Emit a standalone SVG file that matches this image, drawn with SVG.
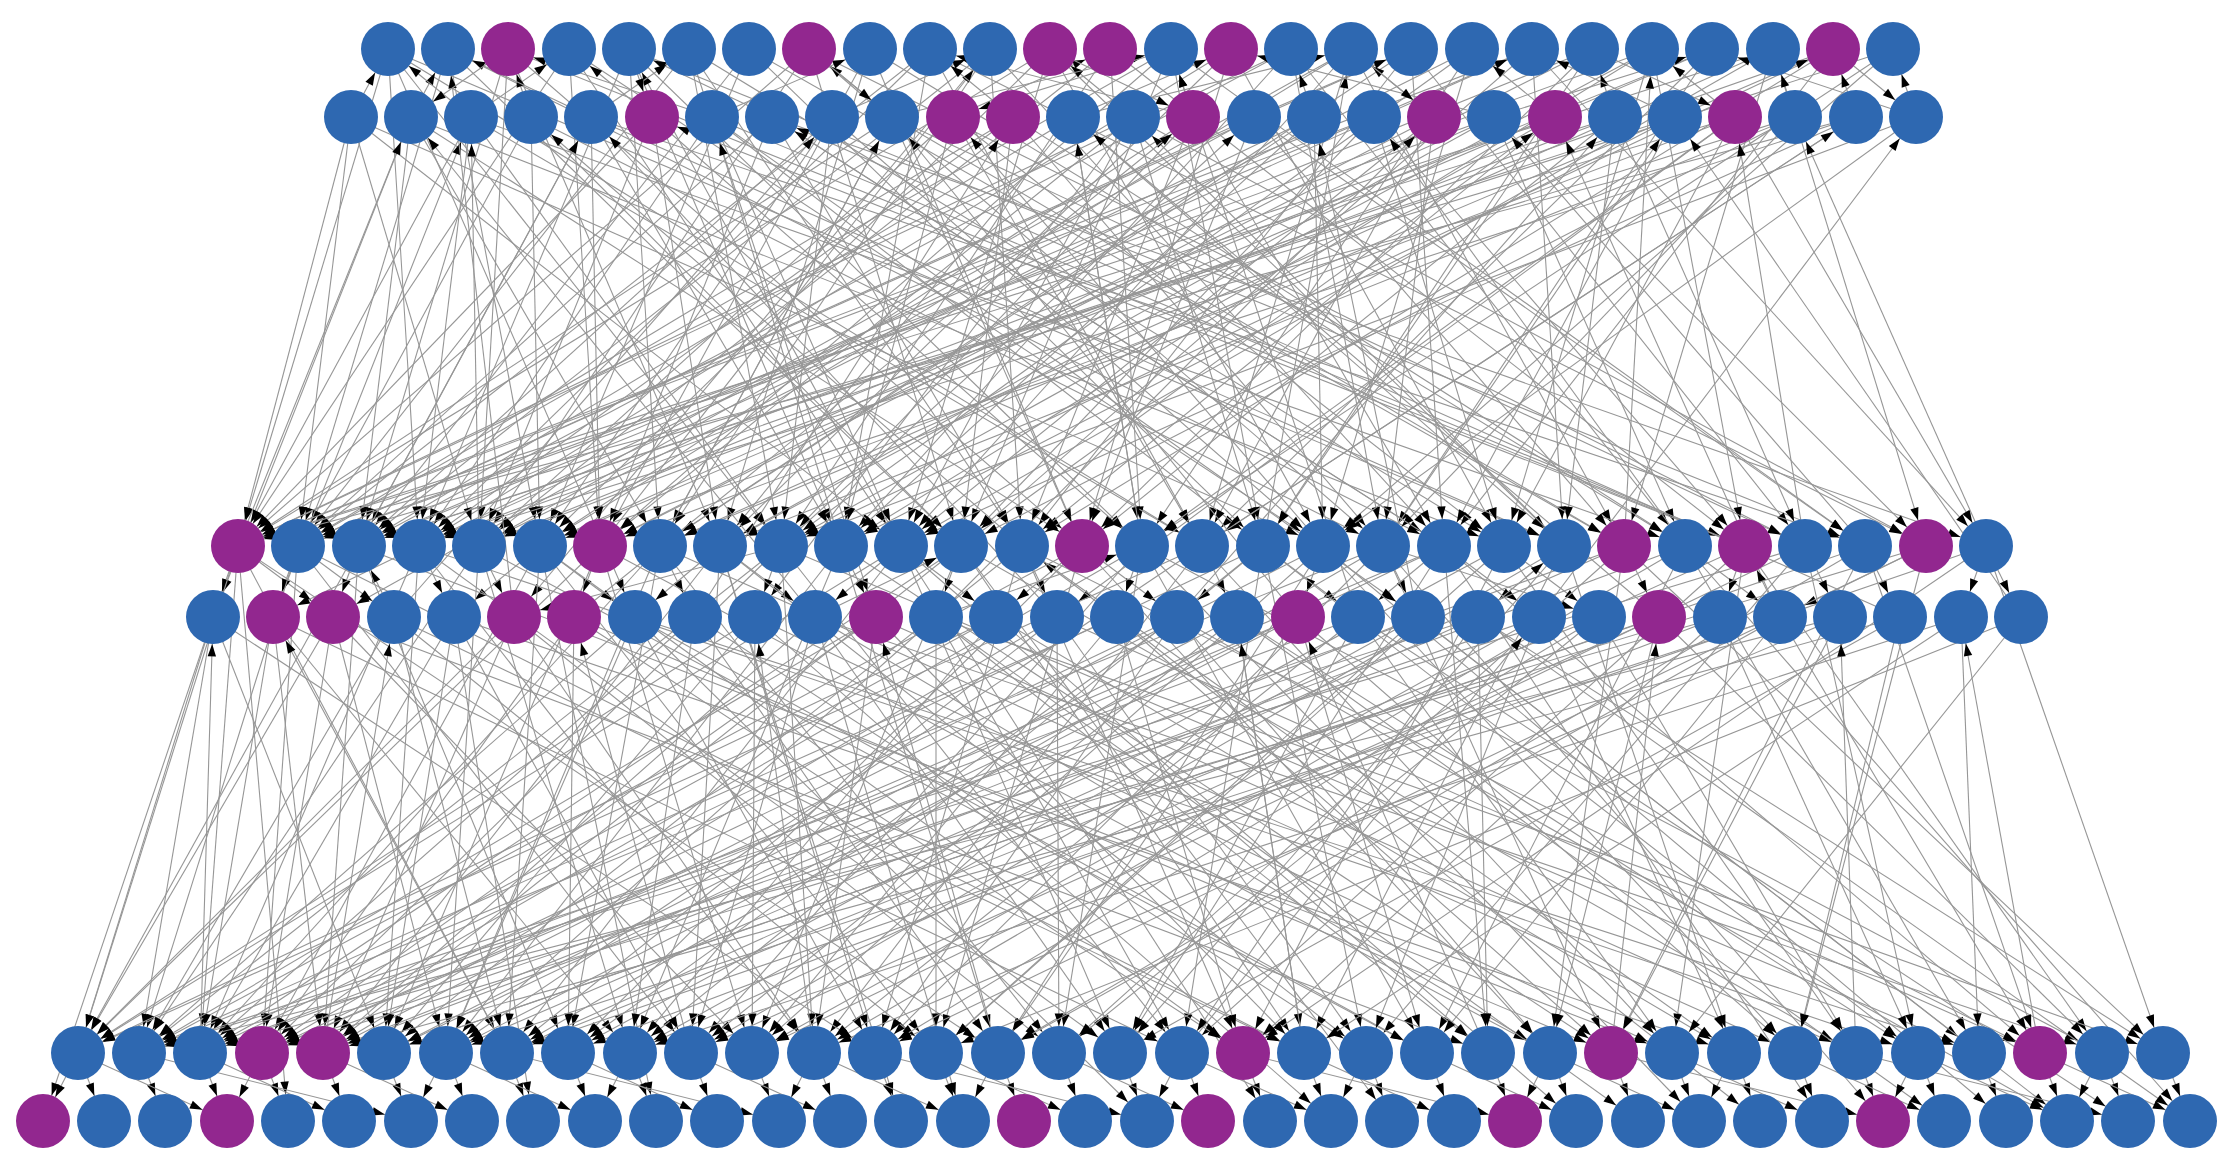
<svg xmlns="http://www.w3.org/2000/svg" width="2219" height="1154" viewBox="0 0 2219 1154">
<style>
.e path{fill:none;stroke:#969696;stroke-width:1.1;marker-end:url(#ah)}
circle{fill:#2e68b1}
circle.p{fill:#92278f}
</style>
<defs>
<marker id="ah" markerUnits="userSpaceOnUse" viewBox="-40 -5 40 10" markerWidth="40" markerHeight="10" refX="0" refY="0" orient="auto" overflow="visible"><path d="M-39.5,-4.2L-27,0L-39.5,4.2Z" fill="#000" stroke="none"/></marker>
</defs>
<rect width="2219" height="1154" fill="#fff"/>
<g id="connectors" class="e">
<path d="M388 49L238 546"/><path d="M388 49L419 546"/><path d="M388 49L781 546"/><path d="M388 49L1202 546"/><path d="M388 49L1564 546"/><path d="M388 49L635 617"/>
<path d="M448 49L298 546"/><path d="M448 49L540 546"/><path d="M448 49L961 546"/><path d="M448 49L1444 546"/>
<path d="M508 49L359 546"/><path d="M508 49L720 546"/><path d="M508 49L1082 546"/><path d="M508 49L1745 546"/><path d="M508 49L479 546"/>
<path d="M569 49L238 546"/><path d="M569 49L600 546"/><path d="M569 49L901 546"/><path d="M569 49L1323 546"/>
<path d="M629 49L419 546"/><path d="M629 49L841 546"/><path d="M629 49L1142 546"/><path d="M629 49L1865 546"/><path d="M629 49L660 546"/>
<path d="M689 49L298 546"/><path d="M689 49L781 546"/><path d="M689 49L1022 546"/><path d="M689 49L1504 546"/><path d="M689 49L876 617"/>
<path d="M749 49L359 546"/><path d="M749 49L540 546"/><path d="M749 49L1263 546"/><path d="M749 49L1624 546"/>
<path d="M809 49L238 546"/><path d="M809 49L479 546"/><path d="M809 49L961 546"/><path d="M809 49L1383 546"/><path d="M809 49L1805 546"/>
<path d="M870 49L600 546"/><path d="M870 49L720 546"/><path d="M870 49L1082 546"/><path d="M870 49L1685 546"/>
<path d="M930 49L298 546"/><path d="M930 49L419 546"/><path d="M930 49L841 546"/><path d="M930 49L1202 546"/><path d="M930 49L1926 546"/>
<path d="M990 49L359 546"/><path d="M990 49L660 546"/><path d="M990 49L1022 546"/><path d="M990 49L1444 546"/><path d="M990 49L514 617"/>
<path d="M1050 49L238 546"/><path d="M1050 49L540 546"/><path d="M1050 49L901 546"/><path d="M1050 49L1323 546"/><path d="M1050 49L1564 546"/>
<path d="M1110 49L479 546"/><path d="M1110 49L781 546"/><path d="M1110 49L1142 546"/><path d="M1110 49L1745 546"/>
<path d="M1171 49L298 546"/><path d="M1171 49L600 546"/><path d="M1171 49L961 546"/><path d="M1171 49L1263 546"/><path d="M1171 49L1865 546"/>
<path d="M1231 49L419 546"/><path d="M1231 49L720 546"/><path d="M1231 49L1082 546"/><path d="M1231 49L1504 546"/>
<path d="M1291 49L238 546"/><path d="M1291 49L359 546"/><path d="M1291 49L841 546"/><path d="M1291 49L1383 546"/><path d="M1291 49L1685 546"/>
<path d="M1351 49L540 546"/><path d="M1351 49L901 546"/><path d="M1351 49L1202 546"/><path d="M1351 49L1624 546"/><path d="M1351 49L333 617"/>
<path d="M1411 49L298 546"/><path d="M1411 49L660 546"/><path d="M1411 49L1022 546"/><path d="M1411 49L1444 546"/><path d="M1411 49L1805 546"/>
<path d="M1472 49L479 546"/><path d="M1472 49L781 546"/><path d="M1472 49L1142 546"/><path d="M1472 49L1323 546"/>
<path d="M1532 49L238 546"/><path d="M1532 49L419 546"/><path d="M1532 49L961 546"/><path d="M1532 49L1564 546"/><path d="M1532 49L1986 546"/>
<path d="M1592 49L359 546"/><path d="M1592 49L600 546"/><path d="M1592 49L1082 546"/><path d="M1592 49L1263 546"/>
<path d="M1652 49L298 546"/><path d="M1652 49L720 546"/><path d="M1652 49L841 546"/><path d="M1652 49L1504 546"/><path d="M1652 49L1745 546"/>
<path d="M1712 49L479 546"/><path d="M1712 49L540 546"/><path d="M1712 49L1202 546"/><path d="M1712 49L1383 546"/>
<path d="M1773 49L238 546"/><path d="M1773 49L660 546"/><path d="M1773 49L901 546"/><path d="M1773 49L1624 546"/><path d="M1773 49L1926 546"/>
<path d="M1833 49L419 546"/><path d="M1833 49L781 546"/><path d="M1833 49L1022 546"/><path d="M1833 49L1444 546"/>
<path d="M1893 49L359 546"/><path d="M1893 49L1142 546"/><path d="M1893 49L1323 546"/>
<path d="M351 117L238 546"/><path d="M351 117L298 546"/><path d="M351 117L479 546"/><path d="M351 117L901 546"/><path d="M351 117L1323 546"/>
<path d="M411 117L359 546"/><path d="M411 117L660 546"/><path d="M411 117L1082 546"/><path d="M411 117L1504 546"/><path d="M411 117L213 617"/>
<path d="M471 117L238 546"/><path d="M471 117L419 546"/><path d="M471 117L781 546"/><path d="M471 117L1202 546"/><path d="M471 117L1685 546"/>
<path d="M531 117L298 546"/><path d="M531 117L540 546"/><path d="M531 117L961 546"/><path d="M531 117L1383 546"/>
<path d="M591 117L359 546"/><path d="M591 117L600 546"/><path d="M591 117L841 546"/><path d="M591 117L1564 546"/><path d="M591 117L1865 546"/>
<path d="M652 117L238 546"/><path d="M652 117L479 546"/><path d="M652 117L720 546"/><path d="M652 117L1142 546"/>
<path d="M712 117L419 546"/><path d="M712 117L901 546"/><path d="M712 117L1263 546"/><path d="M712 117L1745 546"/><path d="M712 117L1418 617"/>
<path d="M772 117L298 546"/><path d="M772 117L600 546"/><path d="M772 117L1022 546"/><path d="M772 117L1444 546"/><path d="M772 117L1986 546"/>
<path d="M832 117L359 546"/><path d="M832 117L540 546"/><path d="M832 117L781 546"/><path d="M832 117L1323 546"/>
<path d="M892 117L238 546"/><path d="M892 117L660 546"/><path d="M892 117L1082 546"/><path d="M892 117L1624 546"/><path d="M892 117L1805 546"/>
<path d="M953 117L479 546"/><path d="M953 117L841 546"/><path d="M953 117L1202 546"/><path d="M953 117L1504 546"/>
<path d="M1013 117L298 546"/><path d="M1013 117L419 546"/><path d="M1013 117L961 546"/><path d="M1013 117L1383 546"/><path d="M1013 117L1685 546"/>
<path d="M1073 117L359 546"/><path d="M1073 117L720 546"/><path d="M1073 117L1142 546"/><path d="M1073 117L1564 546"/>
<path d="M1133 117L238 546"/><path d="M1133 117L600 546"/><path d="M1133 117L901 546"/><path d="M1133 117L1263 546"/><path d="M1133 117L1926 546"/><path d="M1133 117L755 617"/>
<path d="M1193 117L540 546"/><path d="M1193 117L781 546"/><path d="M1193 117L1022 546"/><path d="M1193 117L1444 546"/>
<path d="M1254 117L298 546"/><path d="M1254 117L479 546"/><path d="M1254 117L1082 546"/><path d="M1254 117L1624 546"/><path d="M1254 117L1865 546"/>
<path d="M1314 117L419 546"/><path d="M1314 117L660 546"/><path d="M1314 117L841 546"/><path d="M1314 117L1323 546"/>
<path d="M1374 117L238 546"/><path d="M1374 117L359 546"/><path d="M1374 117L961 546"/><path d="M1374 117L1504 546"/><path d="M1374 117L1745 546"/>
<path d="M1434 117L600 546"/><path d="M1434 117L901 546"/><path d="M1434 117L1202 546"/><path d="M1434 117L1383 546"/>
<path d="M1494 117L298 546"/><path d="M1494 117L540 546"/><path d="M1494 117L720 546"/><path d="M1494 117L1685 546"/><path d="M1494 117L1926 546"/>
<path d="M1555 117L419 546"/><path d="M1555 117L781 546"/><path d="M1555 117L1022 546"/><path d="M1555 117L1263 546"/>
<path d="M1615 117L238 546"/><path d="M1615 117L479 546"/><path d="M1615 117L1082 546"/><path d="M1615 117L1564 546"/><path d="M1615 117L1805 546"/>
<path d="M1675 117L359 546"/><path d="M1675 117L660 546"/><path d="M1675 117L841 546"/><path d="M1675 117L1444 546"/>
<path d="M1735 117L298 546"/><path d="M1735 117L600 546"/><path d="M1735 117L1142 546"/><path d="M1735 117L1504 546"/><path d="M1735 117L1986 546"/><path d="M1735 117L1057 617"/>
<path d="M1795 117L419 546"/><path d="M1795 117L720 546"/><path d="M1795 117L961 546"/><path d="M1795 117L1383 546"/>
<path d="M1856 117L238 546"/><path d="M1856 117L540 546"/><path d="M1856 117L901 546"/><path d="M1856 117L1202 546"/>
<path d="M1916 117L781 546"/><path d="M1916 117L1323 546"/>
<path d="M238 546L411 117"/><path d="M359 546L591 117"/><path d="M479 546L471 117"/><path d="M660 546L892 117"/><path d="M781 546L1254 117"/><path d="M841 546L712 117"/><path d="M961 546L1555 117"/><path d="M1022 546L531 117"/><path d="M1142 546L1073 117"/><path d="M1202 546L1856 117"/><path d="M1323 546L953 117"/><path d="M1383 546L1675 117"/><path d="M1444 546L772 117"/><path d="M1564 546L1133 117"/><path d="M1685 546L1374 117"/><path d="M1745 546L652 117"/><path d="M1805 546L1735 117"/><path d="M1865 546L1494 117"/><path d="M1986 546L1795 117"/>
<path d="M273 617L471 117"/><path d="M394 617L832 117"/><path d="M574 617L1193 117"/><path d="M695 617L1013 117"/><path d="M815 617L411 117"/><path d="M936 617L1434 117"/><path d="M1057 617L591 117"/><path d="M1177 617L1615 117"/><path d="M1298 617L892 117"/><path d="M1418 617L1314 117"/><path d="M1539 617L1916 117"/><path d="M1659 617L1073 117"/><path d="M1780 617L1555 117"/><path d="M1900 617L772 117"/><path d="M2021 617L1675 117"/>
<path d="M600 546L990 49"/><path d="M901 546L629 49"/><path d="M1263 546L1351 49"/><path d="M1624 546L1652 49"/><path d="M514 617L448 49"/><path d="M1358 617L1171 49"/>
<path d="M351 117L388 49"/><path d="M411 117L448 49"/><path d="M471 117L388 49"/><path d="M471 117L569 49"/><path d="M531 117L508 49"/><path d="M591 117L689 49"/><path d="M652 117L569 49"/><path d="M712 117L870 49"/><path d="M772 117L629 49"/><path d="M832 117L990 49"/><path d="M892 117L809 49"/><path d="M953 117L1110 49"/><path d="M1013 117L930 49"/><path d="M1073 117L1231 49"/><path d="M1133 117L1050 49"/><path d="M1193 117L1171 49"/><path d="M1254 117L1411 49"/><path d="M1314 117L1291 49"/><path d="M1374 117L1532 49"/><path d="M1434 117L1351 49"/><path d="M1494 117L1712 49"/><path d="M1555 117L1472 49"/><path d="M1615 117L1592 49"/><path d="M1675 117L1833 49"/><path d="M1735 117L1652 49"/><path d="M1795 117L1773 49"/><path d="M1856 117L1833 49"/><path d="M1916 117L1893 49"/><path d="M591 117L448 49"/><path d="M892 117L1171 49"/><path d="M1193 117L930 49"/><path d="M1494 117L1231 49"/><path d="M1675 117L1532 49"/><path d="M1916 117L1712 49"/><path d="M1073 117L1351 49"/><path d="M712 117L508 49"/>
<path d="M629 49L652 117"/><path d="M809 49L892 117"/><path d="M1050 49L1193 117"/><path d="M1351 49L1434 117"/><path d="M1592 49L1735 117"/><path d="M508 49L411 117"/><path d="M1171 49L953 117"/><path d="M1833 49L1916 117"/>
<path d="M238 546L213 617"/><path d="M238 546L333 617"/><path d="M298 546L273 617"/><path d="M298 546L394 617"/><path d="M359 546L333 617"/><path d="M419 546L454 617"/><path d="M419 546L273 617"/><path d="M479 546L514 617"/><path d="M540 546L454 617"/><path d="M540 546L635 617"/><path d="M600 546L574 617"/><path d="M660 546L695 617"/><path d="M720 546L635 617"/><path d="M720 546L815 617"/><path d="M781 546L755 617"/><path d="M841 546L876 617"/><path d="M901 546L815 617"/><path d="M901 546L996 617"/><path d="M961 546L936 617"/><path d="M1022 546L1057 617"/><path d="M1082 546L996 617"/><path d="M1082 546L1177 617"/><path d="M1142 546L1117 617"/><path d="M1202 546L1237 617"/><path d="M1263 546L1177 617"/><path d="M1263 546L1358 617"/><path d="M1323 546L1298 617"/><path d="M1383 546L1418 617"/><path d="M1444 546L1358 617"/><path d="M1444 546L1539 617"/><path d="M1504 546L1599 617"/><path d="M1564 546L1478 617"/><path d="M1624 546L1659 617"/><path d="M1685 546L1780 617"/><path d="M1745 546L1720 617"/><path d="M1805 546L1840 617"/><path d="M1865 546L1900 617"/><path d="M1926 546L1780 617"/><path d="M1986 546L1961 617"/><path d="M1986 546L2021 617"/><path d="M781 546L514 617"/><path d="M1383 546L1599 617"/>
<path d="M394 617L359 546"/><path d="M815 617L961 546"/><path d="M1117 617L1022 546"/><path d="M1478 617L1564 546"/><path d="M1780 617L1745 546"/><path d="M936 617L1142 546"/>
<path d="M238 546L78 1053"/><path d="M238 546L200 1053"/><path d="M238 546L507 1053"/><path d="M238 546L998 1053"/><path d="M238 546L288 1121"/>
<path d="M298 546L139 1053"/><path d="M298 546L262 1053"/><path d="M298 546L691 1053"/><path d="M298 546L1304 1053"/>
<path d="M359 546L78 1053"/><path d="M359 546L323 1053"/><path d="M359 546L568 1053"/><path d="M359 546L1672 1053"/>
<path d="M419 546L200 1053"/><path d="M419 546L384 1053"/><path d="M419 546L814 1053"/><path d="M419 546L1120 1053"/><path d="M419 546L1918 1053"/>
<path d="M479 546L139 1053"/><path d="M479 546L446 1053"/><path d="M479 546L630 1053"/><path d="M479 546L1427 1053"/>
<path d="M540 546L262 1053"/><path d="M540 546L507 1053"/><path d="M540 546L936 1053"/><path d="M540 546L1243 1053"/><path d="M540 546L656 1121"/>
<path d="M600 546L78 1053"/><path d="M600 546L384 1053"/><path d="M600 546L752 1053"/><path d="M600 546L1550 1053"/>
<path d="M660 546L200 1053"/><path d="M660 546L568 1053"/><path d="M660 546L1059 1053"/><path d="M660 546L1795 1053"/><path d="M660 546L446 1053"/>
<path d="M720 546L323 1053"/><path d="M720 546L691 1053"/><path d="M720 546L875 1053"/><path d="M720 546L1366 1053"/><path d="M720 546L901 1121"/>
<path d="M781 546L139 1053"/><path d="M781 546L262 1053"/><path d="M781 546L814 1053"/><path d="M781 546L1182 1053"/><path d="M781 546L1979 1053"/>
<path d="M841 546L446 1053"/><path d="M841 546L630 1053"/><path d="M841 546L998 1053"/><path d="M841 546L1611 1053"/>
<path d="M901 546L78 1053"/><path d="M901 546L507 1053"/><path d="M901 546L1120 1053"/><path d="M901 546L1488 1053"/><path d="M901 546L1270 1121"/>
<path d="M961 546L200 1053"/><path d="M961 546L323 1053"/><path d="M961 546L752 1053"/><path d="M961 546L1304 1053"/><path d="M961 546L1856 1053"/><path d="M961 546L1392 1121"/>
<path d="M1022 546L384 1053"/><path d="M1022 546L875 1053"/><path d="M1022 546L1243 1053"/><path d="M1022 546L1734 1053"/><path d="M1022 546L2040 1053"/>
<path d="M1082 546L139 1053"/><path d="M1082 546L568 1053"/><path d="M1082 546L936 1053"/><path d="M1082 546L1550 1053"/>
<path d="M1142 546L262 1053"/><path d="M1142 546L691 1053"/><path d="M1142 546L1059 1053"/><path d="M1142 546L1427 1053"/><path d="M1142 546L2102 1053"/><path d="M1142 546L1699 1121"/>
<path d="M1202 546L78 1053"/><path d="M1202 546L446 1053"/><path d="M1202 546L814 1053"/><path d="M1202 546L1672 1053"/>
<path d="M1263 546L200 1053"/><path d="M1263 546L630 1053"/><path d="M1263 546L1182 1053"/><path d="M1263 546L1366 1053"/><path d="M1263 546L1918 1053"/>
<path d="M1323 546L323 1053"/><path d="M1323 546L752 1053"/><path d="M1323 546L998 1053"/><path d="M1323 546L1795 1053"/><path d="M1323 546L2006 1121"/>
<path d="M1383 546L139 1053"/><path d="M1383 546L507 1053"/><path d="M1383 546L875 1053"/><path d="M1383 546L1611 1053"/><path d="M1383 546L1883 1121"/>
<path d="M1444 546L262 1053"/><path d="M1444 546L384 1053"/><path d="M1444 546L1120 1053"/><path d="M1444 546L1488 1053"/><path d="M1444 546L2040 1053"/><path d="M1444 546L1822 1121"/>
<path d="M1504 546L568 1053"/><path d="M1504 546L936 1053"/><path d="M1504 546L1243 1053"/><path d="M1504 546L1856 1053"/>
<path d="M1564 546L1120 1053"/><path d="M1564 546L691 1053"/><path d="M1564 546L1304 1053"/><path d="M1564 546L1734 1053"/>
<path d="M1624 546L200 1053"/><path d="M1624 546L446 1053"/><path d="M1624 546L1059 1053"/><path d="M1624 546L1550 1053"/><path d="M1624 546L2163 1053"/>
<path d="M1685 546L323 1053"/><path d="M1685 546L814 1053"/><path d="M1685 546L1427 1053"/><path d="M1685 546L1979 1053"/><path d="M1685 546L2190 1121"/>
<path d="M1745 546L630 1053"/><path d="M1745 546L1182 1053"/><path d="M1745 546L1672 1053"/><path d="M1745 546L2102 1053"/>
<path d="M1805 546L139 1053"/><path d="M1805 546L752 1053"/><path d="M1805 546L1366 1053"/><path d="M1805 546L1918 1053"/>
<path d="M1865 546L384 1053"/><path d="M1865 546L998 1053"/><path d="M1865 546L1611 1053"/><path d="M1865 546L2040 1053"/>
<path d="M1926 546L262 1053"/><path d="M1926 546L875 1053"/><path d="M1926 546L1795 1053"/>
<path d="M1986 546L507 1053"/><path d="M1986 546L1243 1053"/><path d="M1986 546L2163 1053"/>
<path d="M213 617L78 1053"/><path d="M213 617L139 1053"/><path d="M213 617L384 1053"/><path d="M213 617L875 1053"/><path d="M213 617L43 1121"/>
<path d="M273 617L200 1053"/><path d="M273 617L323 1053"/><path d="M273 617L630 1053"/><path d="M273 617L1182 1053"/>
<path d="M333 617L78 1053"/><path d="M333 617L262 1053"/><path d="M333 617L752 1053"/><path d="M333 617L1488 1053"/><path d="M333 617L446 1053"/>
<path d="M394 617L139 1053"/><path d="M394 617L507 1053"/><path d="M394 617L936 1053"/><path d="M394 617L1304 1053"/>
<path d="M454 617L200 1053"/><path d="M454 617L384 1053"/><path d="M454 617L691 1053"/><path d="M454 617L1734 1053"/><path d="M454 617L533 1121"/>
<path d="M514 617L78 1053"/><path d="M514 617L323 1053"/><path d="M514 617L814 1053"/><path d="M514 617L1059 1053"/>
<path d="M574 617L262 1053"/><path d="M574 617L568 1053"/><path d="M574 617L1243 1053"/><path d="M574 617L1611 1053"/>
<path d="M635 617L139 1053"/><path d="M635 617L446 1053"/><path d="M635 617L875 1053"/><path d="M635 617L1427 1053"/><path d="M635 617L1979 1053"/><path d="M635 617L1147 1121"/>
<path d="M695 617L200 1053"/><path d="M695 617L630 1053"/><path d="M695 617L998 1053"/><path d="M695 617L1366 1053"/>
<path d="M755 617L78 1053"/><path d="M755 617L384 1053"/><path d="M755 617L752 1053"/><path d="M755 617L1672 1053"/><path d="M755 617L1331 1121"/>
<path d="M815 617L323 1053"/><path d="M815 617L691 1053"/><path d="M815 617L1120 1053"/><path d="M815 617L1550 1053"/><path d="M815 617L963 1121"/><path d="M815 617L2102 1053"/>
<path d="M876 617L139 1053"/><path d="M876 617L262 1053"/><path d="M876 617L814 1053"/><path d="M876 617L1304 1053"/><path d="M876 617L1856 1053"/>
<path d="M936 617L446 1053"/><path d="M936 617L936 1053"/><path d="M936 617L1182 1053"/><path d="M936 617L1488 1053"/><path d="M936 617L1638 1121"/><path d="M936 617L2163 1053"/>
<path d="M996 617L78 1053"/><path d="M996 617L200 1053"/><path d="M996 617L630 1053"/><path d="M996 617L1734 1053"/><path d="M996 617L1576 1121"/>
<path d="M1057 617L323 1053"/><path d="M1057 617L507 1053"/><path d="M1057 617L1059 1053"/><path d="M1057 617L1366 1053"/><path d="M1057 617L2040 1053"/>
<path d="M1117 617L139 1053"/><path d="M1117 617L752 1053"/><path d="M1117 617L1243 1053"/><path d="M1117 617L1611 1053"/><path d="M1117 617L1760 1121"/>
<path d="M1177 617L262 1053"/><path d="M1177 617L568 1053"/><path d="M1177 617L875 1053"/><path d="M1177 617L1550 1053"/><path d="M1177 617L2067 1121"/>
<path d="M1237 617L384 1053"/><path d="M1237 617L691 1053"/><path d="M1237 617L1304 1053"/><path d="M1237 617L1918 1053"/><path d="M1237 617L1944 1121"/>
<path d="M1298 617L262 1053"/><path d="M1298 617L446 1053"/><path d="M1298 617L998 1053"/><path d="M1298 617L1427 1053"/><path d="M1298 617L1795 1053"/>
<path d="M1358 617L200 1053"/><path d="M1358 617L814 1053"/><path d="M1358 617L1120 1053"/><path d="M1358 617L1672 1053"/><path d="M1358 617L2128 1121"/>
<path d="M1418 617L323 1053"/><path d="M1418 617L630 1053"/><path d="M1418 617L936 1053"/><path d="M1418 617L1979 1053"/><path d="M1418 617L2067 1121"/>
<path d="M1478 617L139 1053"/><path d="M1478 617L507 1053"/><path d="M1478 617L1182 1053"/><path d="M1478 617L1488 1053"/><path d="M1478 617L2163 1053"/><path d="M1478 617L2190 1121"/>
<path d="M1539 617L262 1053"/><path d="M1539 617L752 1053"/><path d="M1539 617L1366 1053"/><path d="M1539 617L1734 1053"/>
<path d="M1599 617L507 1053"/><path d="M1599 617L875 1053"/><path d="M1599 617L1059 1053"/><path d="M1599 617L1856 1053"/>
<path d="M1659 617L384 1053"/><path d="M1659 617L691 1053"/><path d="M1659 617L1550 1053"/><path d="M1659 617L2102 1053"/>
<path d="M1720 617L200 1053"/><path d="M1720 617L568 1053"/><path d="M1720 617L1243 1053"/><path d="M1720 617L1918 1053"/>
<path d="M1780 617L446 1053"/><path d="M1780 617L998 1053"/><path d="M1780 617L1427 1053"/><path d="M1780 617L2040 1053"/>
<path d="M1840 617L139 1053"/><path d="M1840 617L814 1053"/><path d="M1840 617L1611 1053"/>
<path d="M1900 617L323 1053"/><path d="M1900 617L1120 1053"/><path d="M1900 617L1795 1053"/>
<path d="M1961 617L630 1053"/><path d="M1961 617L1304 1053"/><path d="M1961 617L1979 1053"/>
<path d="M2021 617L936 1053"/><path d="M2021 617L1672 1053"/>
<path d="M323 1053L394 617"/><path d="M691 1053L574 617"/><path d="M998 1053L876 617"/><path d="M1304 1053L1237 617"/><path d="M1611 1053L1659 617"/><path d="M1856 1053L1840 617"/><path d="M507 1053L273 617"/><path d="M1182 1053L1539 617"/><path d="M1488 1053L1298 617"/><path d="M814 1053L755 617"/><path d="M2040 1053L1961 617"/><path d="M200 1053L213 617"/>
<path d="M78 1053L104 1121"/><path d="M139 1053L165 1121"/><path d="M200 1053L227 1121"/><path d="M262 1053L288 1121"/><path d="M323 1053L349 1121"/><path d="M384 1053L411 1121"/><path d="M446 1053L472 1121"/><path d="M507 1053L533 1121"/><path d="M568 1053L595 1121"/><path d="M630 1053L656 1121"/><path d="M691 1053L717 1121"/><path d="M752 1053L779 1121"/><path d="M814 1053L840 1121"/><path d="M875 1053L901 1121"/><path d="M936 1053L963 1121"/><path d="M998 1053L1024 1121"/><path d="M1059 1053L1085 1121"/><path d="M1120 1053L1147 1121"/><path d="M1182 1053L1208 1121"/><path d="M1243 1053L1270 1121"/><path d="M1304 1053L1331 1121"/><path d="M1366 1053L1392 1121"/><path d="M1427 1053L1454 1121"/><path d="M1488 1053L1515 1121"/><path d="M1550 1053L1576 1121"/><path d="M1611 1053L1638 1121"/><path d="M1672 1053L1699 1121"/><path d="M1734 1053L1760 1121"/><path d="M1795 1053L1822 1121"/><path d="M1856 1053L1883 1121"/><path d="M1918 1053L1944 1121"/><path d="M1979 1053L2006 1121"/><path d="M2040 1053L2067 1121"/><path d="M2102 1053L2128 1121"/><path d="M2163 1053L2190 1121"/>
<path d="M78 1053L227 1121"/><path d="M200 1053L349 1121"/><path d="M323 1053L472 1121"/><path d="M446 1053L595 1121"/><path d="M568 1053L717 1121"/><path d="M691 1053L840 1121"/><path d="M814 1053L963 1121"/><path d="M936 1053L1085 1121"/><path d="M1059 1053L1208 1121"/><path d="M1182 1053L1331 1121"/><path d="M1304 1053L1454 1121"/><path d="M1427 1053L1576 1121"/><path d="M1550 1053L1699 1121"/><path d="M1672 1053L1822 1121"/><path d="M1795 1053L1944 1121"/><path d="M1918 1053L2067 1121"/><path d="M2040 1053L2190 1121"/>
<path d="M78 1053L43 1121"/><path d="M262 1053L227 1121"/><path d="M446 1053L411 1121"/><path d="M630 1053L595 1121"/><path d="M814 1053L779 1121"/><path d="M998 1053L963 1121"/><path d="M1182 1053L1147 1121"/><path d="M1366 1053L1331 1121"/><path d="M1550 1053L1515 1121"/><path d="M1734 1053L1699 1121"/><path d="M1918 1053L1883 1121"/><path d="M2102 1053L2067 1121"/>
<path d="M139 1053L411 1121"/><path d="M507 1053L779 1121"/><path d="M875 1053L1147 1121"/><path d="M1243 1053L1515 1121"/><path d="M1611 1053L1883 1121"/><path d="M1856 1053L2128 1121"/>
</g>
<g id="nodes">
<g id="n1-0"><circle cx="388" cy="49" r="27"/></g><g id="n1-1"><circle cx="448" cy="49" r="27"/></g><g id="n1-2"><circle class="p" cx="508" cy="49" r="27"/></g><g id="n1-3"><circle cx="569" cy="49" r="27"/></g><g id="n1-4"><circle cx="629" cy="49" r="27"/></g><g id="n1-5"><circle cx="689" cy="49" r="27"/></g><g id="n1-6"><circle cx="749" cy="49" r="27"/></g><g id="n1-7"><circle class="p" cx="809" cy="49" r="27"/></g><g id="n1-8"><circle cx="870" cy="49" r="27"/></g><g id="n1-9"><circle cx="930" cy="49" r="27"/></g><g id="n1-10"><circle cx="990" cy="49" r="27"/></g><g id="n1-11"><circle class="p" cx="1050" cy="49" r="27"/></g><g id="n1-12"><circle class="p" cx="1110" cy="49" r="27"/></g><g id="n1-13"><circle cx="1171" cy="49" r="27"/></g><g id="n1-14"><circle class="p" cx="1231" cy="49" r="27"/></g><g id="n1-15"><circle cx="1291" cy="49" r="27"/></g><g id="n1-16"><circle cx="1351" cy="49" r="27"/></g><g id="n1-17"><circle cx="1411" cy="49" r="27"/></g><g id="n1-18"><circle cx="1472" cy="49" r="27"/></g><g id="n1-19"><circle cx="1532" cy="49" r="27"/></g><g id="n1-20"><circle cx="1592" cy="49" r="27"/></g><g id="n1-21"><circle cx="1652" cy="49" r="27"/></g><g id="n1-22"><circle cx="1712" cy="49" r="27"/></g><g id="n1-23"><circle cx="1773" cy="49" r="27"/></g><g id="n1-24"><circle class="p" cx="1833" cy="49" r="27"/></g><g id="n1-25"><circle cx="1893" cy="49" r="27"/></g>
<g id="n2-0"><circle cx="351" cy="117" r="27"/></g><g id="n2-1"><circle cx="411" cy="117" r="27"/></g><g id="n2-2"><circle cx="471" cy="117" r="27"/></g><g id="n2-3"><circle cx="531" cy="117" r="27"/></g><g id="n2-4"><circle cx="591" cy="117" r="27"/></g><g id="n2-5"><circle class="p" cx="652" cy="117" r="27"/></g><g id="n2-6"><circle cx="712" cy="117" r="27"/></g><g id="n2-7"><circle cx="772" cy="117" r="27"/></g><g id="n2-8"><circle cx="832" cy="117" r="27"/></g><g id="n2-9"><circle cx="892" cy="117" r="27"/></g><g id="n2-10"><circle class="p" cx="953" cy="117" r="27"/></g><g id="n2-11"><circle class="p" cx="1013" cy="117" r="27"/></g><g id="n2-12"><circle cx="1073" cy="117" r="27"/></g><g id="n2-13"><circle cx="1133" cy="117" r="27"/></g><g id="n2-14"><circle class="p" cx="1193" cy="117" r="27"/></g><g id="n2-15"><circle cx="1254" cy="117" r="27"/></g><g id="n2-16"><circle cx="1314" cy="117" r="27"/></g><g id="n2-17"><circle cx="1374" cy="117" r="27"/></g><g id="n2-18"><circle class="p" cx="1434" cy="117" r="27"/></g><g id="n2-19"><circle cx="1494" cy="117" r="27"/></g><g id="n2-20"><circle class="p" cx="1555" cy="117" r="27"/></g><g id="n2-21"><circle cx="1615" cy="117" r="27"/></g><g id="n2-22"><circle cx="1675" cy="117" r="27"/></g><g id="n2-23"><circle class="p" cx="1735" cy="117" r="27"/></g><g id="n2-24"><circle cx="1795" cy="117" r="27"/></g><g id="n2-25"><circle cx="1856" cy="117" r="27"/></g><g id="n2-26"><circle cx="1916" cy="117" r="27"/></g>
<g id="n3-0"><circle class="p" cx="238" cy="546" r="27"/></g><g id="n3-1"><circle cx="298" cy="546" r="27"/></g><g id="n3-2"><circle cx="359" cy="546" r="27"/></g><g id="n3-3"><circle cx="419" cy="546" r="27"/></g><g id="n3-4"><circle cx="479" cy="546" r="27"/></g><g id="n3-5"><circle cx="540" cy="546" r="27"/></g><g id="n3-6"><circle class="p" cx="600" cy="546" r="27"/></g><g id="n3-7"><circle cx="660" cy="546" r="27"/></g><g id="n3-8"><circle cx="720" cy="546" r="27"/></g><g id="n3-9"><circle cx="781" cy="546" r="27"/></g><g id="n3-10"><circle cx="841" cy="546" r="27"/></g><g id="n3-11"><circle cx="901" cy="546" r="27"/></g><g id="n3-12"><circle cx="961" cy="546" r="27"/></g><g id="n3-13"><circle cx="1022" cy="546" r="27"/></g><g id="n3-14"><circle class="p" cx="1082" cy="546" r="27"/></g><g id="n3-15"><circle cx="1142" cy="546" r="27"/></g><g id="n3-16"><circle cx="1202" cy="546" r="27"/></g><g id="n3-17"><circle cx="1263" cy="546" r="27"/></g><g id="n3-18"><circle cx="1323" cy="546" r="27"/></g><g id="n3-19"><circle cx="1383" cy="546" r="27"/></g><g id="n3-20"><circle cx="1444" cy="546" r="27"/></g><g id="n3-21"><circle cx="1504" cy="546" r="27"/></g><g id="n3-22"><circle cx="1564" cy="546" r="27"/></g><g id="n3-23"><circle class="p" cx="1624" cy="546" r="27"/></g><g id="n3-24"><circle cx="1685" cy="546" r="27"/></g><g id="n3-25"><circle class="p" cx="1745" cy="546" r="27"/></g><g id="n3-26"><circle cx="1805" cy="546" r="27"/></g><g id="n3-27"><circle cx="1865" cy="546" r="27"/></g><g id="n3-28"><circle class="p" cx="1926" cy="546" r="27"/></g><g id="n3-29"><circle cx="1986" cy="546" r="27"/></g>
<g id="n4-0"><circle cx="213" cy="617" r="27"/></g><g id="n4-1"><circle class="p" cx="273" cy="617" r="27"/></g><g id="n4-2"><circle class="p" cx="333" cy="617" r="27"/></g><g id="n4-3"><circle cx="394" cy="617" r="27"/></g><g id="n4-4"><circle cx="454" cy="617" r="27"/></g><g id="n4-5"><circle class="p" cx="514" cy="617" r="27"/></g><g id="n4-6"><circle class="p" cx="574" cy="617" r="27"/></g><g id="n4-7"><circle cx="635" cy="617" r="27"/></g><g id="n4-8"><circle cx="695" cy="617" r="27"/></g><g id="n4-9"><circle cx="755" cy="617" r="27"/></g><g id="n4-10"><circle cx="815" cy="617" r="27"/></g><g id="n4-11"><circle class="p" cx="876" cy="617" r="27"/></g><g id="n4-12"><circle cx="936" cy="617" r="27"/></g><g id="n4-13"><circle cx="996" cy="617" r="27"/></g><g id="n4-14"><circle cx="1057" cy="617" r="27"/></g><g id="n4-15"><circle cx="1117" cy="617" r="27"/></g><g id="n4-16"><circle cx="1177" cy="617" r="27"/></g><g id="n4-17"><circle cx="1237" cy="617" r="27"/></g><g id="n4-18"><circle class="p" cx="1298" cy="617" r="27"/></g><g id="n4-19"><circle cx="1358" cy="617" r="27"/></g><g id="n4-20"><circle cx="1418" cy="617" r="27"/></g><g id="n4-21"><circle cx="1478" cy="617" r="27"/></g><g id="n4-22"><circle cx="1539" cy="617" r="27"/></g><g id="n4-23"><circle cx="1599" cy="617" r="27"/></g><g id="n4-24"><circle class="p" cx="1659" cy="617" r="27"/></g><g id="n4-25"><circle cx="1720" cy="617" r="27"/></g><g id="n4-26"><circle cx="1780" cy="617" r="27"/></g><g id="n4-27"><circle cx="1840" cy="617" r="27"/></g><g id="n4-28"><circle cx="1900" cy="617" r="27"/></g><g id="n4-29"><circle cx="1961" cy="617" r="27"/></g><g id="n4-30"><circle cx="2021" cy="617" r="27"/></g>
<g id="n5-0"><circle cx="78" cy="1053" r="27"/></g><g id="n5-1"><circle cx="139" cy="1053" r="27"/></g><g id="n5-2"><circle cx="200" cy="1053" r="27"/></g><g id="n5-3"><circle class="p" cx="262" cy="1053" r="27"/></g><g id="n5-4"><circle class="p" cx="323" cy="1053" r="27"/></g><g id="n5-5"><circle cx="384" cy="1053" r="27"/></g><g id="n5-6"><circle cx="446" cy="1053" r="27"/></g><g id="n5-7"><circle cx="507" cy="1053" r="27"/></g><g id="n5-8"><circle cx="568" cy="1053" r="27"/></g><g id="n5-9"><circle cx="630" cy="1053" r="27"/></g><g id="n5-10"><circle cx="691" cy="1053" r="27"/></g><g id="n5-11"><circle cx="752" cy="1053" r="27"/></g><g id="n5-12"><circle cx="814" cy="1053" r="27"/></g><g id="n5-13"><circle cx="875" cy="1053" r="27"/></g><g id="n5-14"><circle cx="936" cy="1053" r="27"/></g><g id="n5-15"><circle cx="998" cy="1053" r="27"/></g><g id="n5-16"><circle cx="1059" cy="1053" r="27"/></g><g id="n5-17"><circle cx="1120" cy="1053" r="27"/></g><g id="n5-18"><circle cx="1182" cy="1053" r="27"/></g><g id="n5-19"><circle class="p" cx="1243" cy="1053" r="27"/></g><g id="n5-20"><circle cx="1304" cy="1053" r="27"/></g><g id="n5-21"><circle cx="1366" cy="1053" r="27"/></g><g id="n5-22"><circle cx="1427" cy="1053" r="27"/></g><g id="n5-23"><circle cx="1488" cy="1053" r="27"/></g><g id="n5-24"><circle cx="1550" cy="1053" r="27"/></g><g id="n5-25"><circle class="p" cx="1611" cy="1053" r="27"/></g><g id="n5-26"><circle cx="1672" cy="1053" r="27"/></g><g id="n5-27"><circle cx="1734" cy="1053" r="27"/></g><g id="n5-28"><circle cx="1795" cy="1053" r="27"/></g><g id="n5-29"><circle cx="1856" cy="1053" r="27"/></g><g id="n5-30"><circle cx="1918" cy="1053" r="27"/></g><g id="n5-31"><circle cx="1979" cy="1053" r="27"/></g><g id="n5-32"><circle class="p" cx="2040" cy="1053" r="27"/></g><g id="n5-33"><circle cx="2102" cy="1053" r="27"/></g><g id="n5-34"><circle cx="2163" cy="1053" r="27"/></g>
<g id="n6-0"><circle class="p" cx="43" cy="1121" r="27"/></g><g id="n6-1"><circle cx="104" cy="1121" r="27"/></g><g id="n6-2"><circle cx="165" cy="1121" r="27"/></g><g id="n6-3"><circle class="p" cx="227" cy="1121" r="27"/></g><g id="n6-4"><circle cx="288" cy="1121" r="27"/></g><g id="n6-5"><circle cx="349" cy="1121" r="27"/></g><g id="n6-6"><circle cx="411" cy="1121" r="27"/></g><g id="n6-7"><circle cx="472" cy="1121" r="27"/></g><g id="n6-8"><circle cx="533" cy="1121" r="27"/></g><g id="n6-9"><circle cx="595" cy="1121" r="27"/></g><g id="n6-10"><circle cx="656" cy="1121" r="27"/></g><g id="n6-11"><circle cx="717" cy="1121" r="27"/></g><g id="n6-12"><circle cx="779" cy="1121" r="27"/></g><g id="n6-13"><circle cx="840" cy="1121" r="27"/></g><g id="n6-14"><circle cx="901" cy="1121" r="27"/></g><g id="n6-15"><circle cx="963" cy="1121" r="27"/></g><g id="n6-16"><circle class="p" cx="1024" cy="1121" r="27"/></g><g id="n6-17"><circle cx="1085" cy="1121" r="27"/></g><g id="n6-18"><circle cx="1147" cy="1121" r="27"/></g><g id="n6-19"><circle class="p" cx="1208" cy="1121" r="27"/></g><g id="n6-20"><circle cx="1270" cy="1121" r="27"/></g><g id="n6-21"><circle cx="1331" cy="1121" r="27"/></g><g id="n6-22"><circle cx="1392" cy="1121" r="27"/></g><g id="n6-23"><circle cx="1454" cy="1121" r="27"/></g><g id="n6-24"><circle class="p" cx="1515" cy="1121" r="27"/></g><g id="n6-25"><circle cx="1576" cy="1121" r="27"/></g><g id="n6-26"><circle cx="1638" cy="1121" r="27"/></g><g id="n6-27"><circle cx="1699" cy="1121" r="27"/></g><g id="n6-28"><circle cx="1760" cy="1121" r="27"/></g><g id="n6-29"><circle cx="1822" cy="1121" r="27"/></g><g id="n6-30"><circle class="p" cx="1883" cy="1121" r="27"/></g><g id="n6-31"><circle cx="1944" cy="1121" r="27"/></g><g id="n6-32"><circle cx="2006" cy="1121" r="27"/></g><g id="n6-33"><circle cx="2067" cy="1121" r="27"/></g><g id="n6-34"><circle cx="2128" cy="1121" r="27"/></g><g id="n6-35"><circle cx="2190" cy="1121" r="27"/></g>
</g>
</svg>
